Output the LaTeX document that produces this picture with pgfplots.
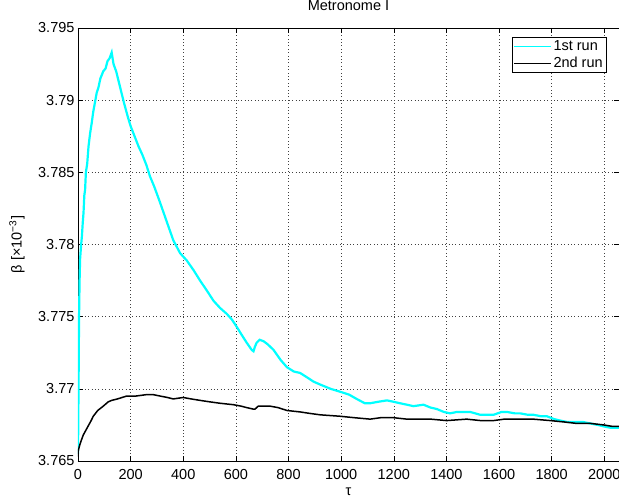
\documentclass[border=0pt]{standalone}
\usepackage{fontspec}
\setmainfont{Liberation Sans}
\usepackage{pgfplots}
\pgfplotsset{compat=1.18}
\definecolor{mcyan}{RGB}{0,255,255}
\newcommand{\pxfont}{\fontsize{14.5}{16}\selectfont}
\begin{document}
\begin{tikzpicture}
\useasboundingbox (-78pt,-39pt) rectangle (541pt,461pt);
\begin{axis}[
  name=ax, at={(0pt,0pt)}, anchor=south west,
  scale only axis,
  width=541pt, height=433pt,
  xmin=0, xmax=2056,
  ymin=3.765, ymax=3.795,
  xtick={0,200,...,2000},
  ytick={3.765,3.77,3.775,3.78,3.785,3.79,3.795},
  scaled y ticks=false, scaled x ticks=false,
  /pgf/number format/assume math mode=true,
  /pgf/number format/1000 sep={},
  yticklabel style={/pgf/number format/fixed,/pgf/number format/precision=3},
  ticklabel style={font=\pxfont},
  xticklabel style={anchor=base, yshift=-19pt},
  tick align=inside, xtick pos=both, ytick pos=both,
  major tick length=5pt,
  tick style={black, line width=0.5pt},
  axis line style={black, line width=0.6pt},
  grid=major,
  major grid style={black!75, dash pattern=on 0.8pt off 2.6pt, line width=0.5pt},
  title={Metronome I},
  title style={font=\pxfont, at={(axis description cs:0.5,1.0255)}, anchor=base, inner sep=0pt},
  xlabel={τ},
  xlabel style={font=\pxfont, at={(axis description cs:0.5,-0.0808)}, anchor=base, inner sep=0pt},
  ylabel={β [×10\textsuperscript{−3}]},
  ylabel style={font=\pxfont, at={(axis description cs:-0.113,0.5)}, anchor=center},
  legend style={font=\pxfont, at={(axis description cs:1,1)}, anchor=north east,
    xshift=-12pt, yshift=-9pt, draw=black, line width=0.6pt,
    inner xsep=2pt, inner ysep=1.5pt, row sep=1pt, cells={anchor=west}},
  legend image code/.code={\draw[#1, line width=0.6pt] (0pt,0pt) -- (37pt,0pt);},
]
\addplot[mcyan, line width=2.2pt] coordinates {
(0,3.7655) (2,3.7700) (4,3.7750) (6,3.7775) (8,3.7790) (12,3.7800) (15,3.7806)
(18,3.7815) (21,3.7822) (24,3.7834) (27,3.7838) (30,3.7850) (35,3.7856)
(40,3.7868) (46,3.7877) (52,3.7884) (58,3.7892) (65,3.7899) (71,3.7905)
(78,3.7909) (85,3.7915) (96,3.7920) (105,3.7922) (112,3.7927) (120,3.7929)
(128,3.7933) (135,3.7925) (145,3.7920) (160,3.7909) (175,3.7898) (190,3.7888)
(200,3.7882) (215,3.7875) (230,3.7868) (245,3.7862) (260,3.7855) (274,3.7847)
(290,3.7840) (312,3.7829) (335,3.7817) (362,3.7803) (388,3.7794) (413,3.7789)
(440,3.7782) (464,3.7775) (490,3.7768) (515,3.7761) (540,3.7756) (565,3.7752)
(585,3.7748) (603,3.7743) (620,3.7738) (641,3.7732) (660,3.7727) (667,3.7726)
(672,3.7729) (679,3.7732) (690,3.7734) (705,3.7733) (720,3.7731) (743,3.7727)
(770,3.7720) (794,3.7715) (820,3.7712) (844,3.7711) (870,3.7708) (895,3.7705)
(920,3.7703) (960,3.7700) (996,3.7698) (1030,3.7696) (1059,3.7693) (1090,3.7690)
(1110,3.7690) (1140,3.7691) (1174,3.7692) (1200,3.7691) (1224,3.7690) (1250,3.7689)
(1275,3.7688) (1313,3.7689) (1340,3.7687) (1364,3.7686) (1390,3.7684) (1414,3.7683)
(1440,3.7684) (1465,3.7684) (1490,3.7684) (1529,3.7682) (1560,3.7682) (1579,3.7682)
(1610,3.7684) (1630,3.7684) (1660,3.7683) (1681,3.7683) (1710,3.7682) (1731,3.7682)
(1760,3.7681) (1782,3.7681) (1810,3.7679) (1833,3.7678) (1860,3.7677) (1896,3.7677)
(1920,3.7677) (1947,3.7676) (1975,3.7675) (1997,3.7674) (2025,3.7673) (2056,3.7673)
};
\addlegendentry{1st run}
\addplot[black, line width=1.5pt] coordinates {
(0,3.7653) (1,3.7657) (5,3.7660) (10,3.7663) (20,3.7668) (35,3.7673) (50,3.7678)
(58,3.7681) (75,3.7685) (96,3.7688) (115,3.7691) (128,3.7692) (150,3.7693)
(185,3.7695) (220,3.7695) (261,3.7696) (285,3.7696) (312,3.7695) (340,3.7694)
(362,3.7693) (400,3.7694) (430,3.7693) (464,3.7692) (500,3.7691) (540,3.7690)
(591,3.7689) (620,3.7688) (641,3.7687) (665,3.7686) (673,3.7686) (685,3.7688)
(710,3.7688) (730,3.7688) (760,3.7687) (794,3.7685) (844,3.7684) (880,3.7683)
(920,3.7682) (996,3.7681) (1050,3.7680) (1110,3.7679) (1150,3.7680) (1199,3.7680)
(1250,3.7679) (1288,3.7679) (1340,3.7679) (1401,3.7678) (1477,3.7679) (1530,3.7678)
(1579,3.7678) (1620,3.7679) (1668,3.7679) (1730,3.7679) (1795,3.7678) (1850,3.7677)
(1896,3.7676) (1950,3.7676) (1997,3.7675) (2030,3.7674) (2056,3.7674)
};
\addlegendentry{2nd run}
\end{axis}
\end{tikzpicture}
\end{document}
